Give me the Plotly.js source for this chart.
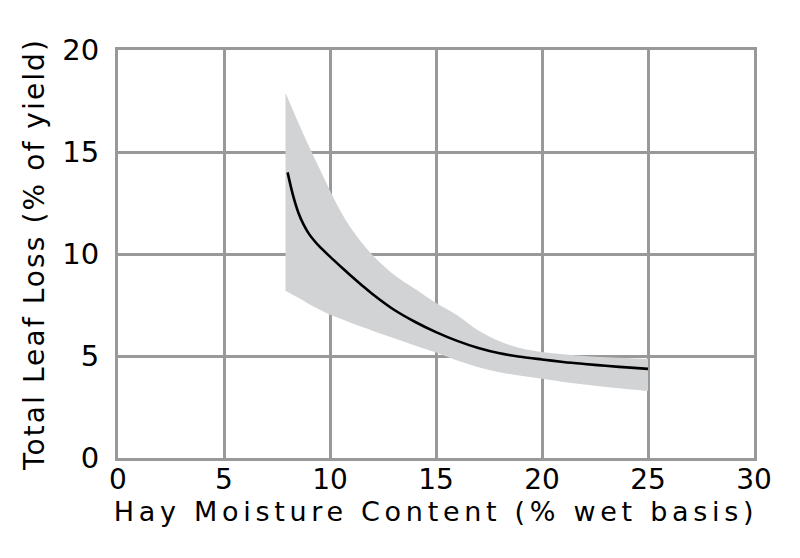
<!DOCTYPE html>
<html>
<head>
<meta charset="utf-8">
<script src="https://cdn.plot.ly/plotly-3.0.1.min.js"></script>
<style>
html,body{margin:0;padding:0;background:#fff;}
#chart{width:800px;height:558px;}
.xtitle{letter-spacing:4.7px;}
.ytitle{letter-spacing:2.1px;}
</style>
</head>
<body>
<div id="chart"></div>
<script>
// Central fitted curve
var curveX = [8, 8.25, 8.5, 8.75, 9, 9.25, 9.5, 10, 10.5, 11, 11.5, 12, 13, 14, 15, 16, 17, 18, 19, 20, 21, 22, 23, 24, 25];
var curveY = [14.0, 12.9, 12.05, 11.45, 11.0, 10.66, 10.37, 9.87, 9.39, 8.92, 8.47, 8.04, 7.28, 6.68, 6.17, 5.74, 5.39, 5.13, 4.96, 4.83, 4.71, 4.61, 4.52, 4.44, 4.37];

// Uncertainty band edges
var bandX = [7.9, 8.5, 9, 9.5, 10, 10.5, 11, 11.5, 12, 13, 14, 15, 16, 17, 18, 19, 20, 21, 22, 23, 24, 25];
var bandUpper = [17.9, 16.45, 15.3, 14.2, 13.1, 12.1, 11.25, 10.55, 9.95, 9.0, 8.3, 7.6, 7.0, 6.25, 5.72, 5.38, 5.2, 5.08, 5.0, 4.94, 4.9, 4.85];
var bandLower = [8.2, 7.85, 7.55, 7.28, 7.02, 6.82, 6.62, 6.43, 6.24, 5.88, 5.52, 5.17, 4.78, 4.45, 4.2, 4.03, 3.88, 3.73, 3.6, 3.48, 3.38, 3.28];

var xTicks = [0, 5, 10, 15, 20, 25, 30];
var yTicks = [0, 5, 10, 15, 20];

var bandColor = 'rgb(210,211,213)';
var traces = [
  {x: bandX, y: bandLower, type: 'scatter', mode: 'lines',
   line: {width: 0, color: bandColor, shape: 'spline', smoothing: 1}, hoverinfo: 'skip', showlegend: false},
  {x: bandX, y: bandUpper, type: 'scatter', mode: 'lines', fill: 'tonexty', fillcolor: bandColor,
   line: {width: 0, color: bandColor, shape: 'spline', smoothing: 1}, hoverinfo: 'skip', showlegend: false},
  {x: curveX, y: curveY, type: 'scatter', mode: 'lines',
   line: {color: '#000', width: 2.6, shape: 'spline', smoothing: 1}, showlegend: false}
];

var fam = 'DejaVu Sans, Verdana, sans-serif';
var layout = {
  width: 800, height: 558,
  margin: {l: 118, r: 46, t: 50, b: 100},
  paper_bgcolor: '#fff', plot_bgcolor: '#fff',
  showlegend: false,
  xaxis: {
    range: [0, 30], tickvals: xTicks, ticktext: xTicks.map(String),
    showgrid: true, gridcolor: '#999999', gridwidth: 3,
    showline: true, linecolor: '#999999', linewidth: 3, mirror: true,
    zeroline: false, ticks: '', ticklabelstandoff: -6,
    tickfont: {family: fam, color: '#000', size: 28},
    title: {text: 'Hay Moisture Content (% wet basis)', font: {family: fam, color: '#000', size: 27}, standoff: 2}
  },
  yaxis: {
    range: [0, 20], tickvals: yTicks, ticktext: yTicks.map(String),
    showgrid: true, gridcolor: '#999999', gridwidth: 3,
    showline: true, linecolor: '#999999', linewidth: 3, mirror: true,
    zeroline: false, ticks: '', ticklabelstandoff: 10,
    tickfont: {family: fam, color: '#000', size: 29},
    title: {text: 'Total Leaf Loss (% of yield)', font: {family: fam, color: '#000', size: 28}, standoff: 10}
  }
};

Plotly.newPlot('chart', traces, layout, {displayModeBar: false, staticPlot: true});
</script>
</body>
</html>
